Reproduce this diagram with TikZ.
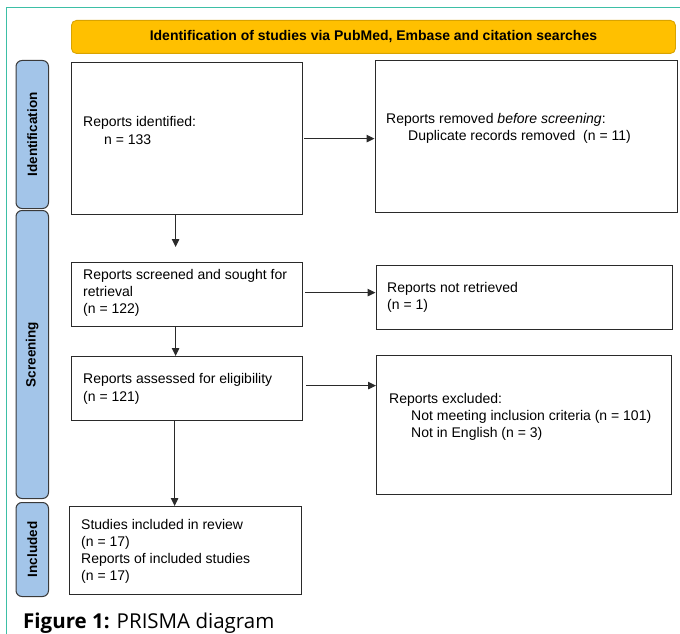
\documentclass[tikz,border=0pt]{standalone}
\usepackage{fontspec}
\setmainfont{Liberation Sans}
\newfontfamily\capfont{Open Sans}
\usetikzlibrary{arrows.meta}
\definecolor{framec}{HTML}{3DBFA6}
\definecolor{barfill}{HTML}{FFC000}
\definecolor{bardraw}{HTML}{D9A300}
\definecolor{tabfill}{HTML}{A3C5E9}
\definecolor{tabdraw}{HTML}{3A3A3A}
\definecolor{boxc}{HTML}{2A2A2A}
\tikzset{
  pbox/.style={draw=boxc, line width=1.2pt, anchor=north west, inner sep=0pt, fill=white},
  tab/.style={draw=tabdraw, fill=tabfill, line width=1pt, rounded corners=6pt, anchor=north west, inner sep=0pt, minimum width=32.5pt},
  tablabel/.style={rotate=90, font=\fontsize{13.5}{16}\selectfont\bfseries, inner sep=0pt},
  txt/.style={anchor=north west, inner sep=0pt, align=left, font=\fontsize{14}{17}\selectfont},
  arr/.style={draw=boxc, line width=1pt, -{Triangle[length=8pt,width=7.5pt]}}
}
\begin{document}
\begin{tikzpicture}[x=1pt,y=-1pt]
\useasboundingbox (0,0) rectangle (680,634);
% frame
\draw[framec, line width=1.3pt] (6.5,634) -- (6.5,7.5) -- (680,7.5);
% title bar
\node[draw=bardraw, fill=barfill, line width=0.9pt, rounded corners=5pt, anchor=north west, inner sep=0pt,
      minimum width=604pt, minimum height=33pt,
      font=\fontsize{14}{16}\selectfont\bfseries] (bar) at (71,20) {Identification of studies via PubMed, Embase and citation searches};
% side tabs
\node[tab, minimum height=148pt] (tid) at (15.5,60) {};
\node[tablabel] (lid) at (tid.center) {Identification};
\node[tab, minimum height=288pt] (tsc) at (15.5,210) {};
\node[tablabel] (lsc) at (tsc.center) {Screening};
\node[tab, minimum height=94pt] (tin) at (15.5,502) {};
\node[tablabel] (lin) at (tin.center) {Included};
% boxes
\node[pbox, minimum width=231pt, minimum height=152pt] (b1) at (71,62) {};
\node[pbox, minimum width=302pt, minimum height=152pt] (r1) at (374.5,60) {};
\node[pbox, minimum width=231pt, minimum height=64pt] (b2) at (71,262) {};
\node[pbox, minimum width=296.5pt, minimum height=64pt] (r2) at (375.5,264.5) {};
\node[pbox, minimum width=231pt, minimum height=64pt] (b3) at (71,356) {};
\node[pbox, minimum width=295pt, minimum height=139pt] (r3) at (376,355) {};
\node[pbox, minimum width=232pt, minimum height=88pt] (b4) at (68.5,506) {};
% texts
\node[txt] (t1) at (83,116.5) {Reports identified:\\[1pt]\hspace*{21pt}n = 133};
\node[txt] (tr1) at (386,113.5) {Reports removed \textit{before screening}:\\\hspace*{22pt}Duplicate records removed\ \ (n = 11)};
\node[txt] (t2) at (83,269.5) {Reports screened and sought for\\retrieval\\(n = 122)};
\node[txt] (tr2) at (387,282.5) {Reports not retrieved\\(n = 1)};
\node[txt] (t3) at (83,373.5) {Reports assessed for eligibility\\[1pt](n = 121)};
\node[txt] (tr3) at (389,393.5) {Reports excluded:\\\hspace*{22pt}Not meeting inclusion criteria (n = 101)\\\hspace*{22pt}Not in English (n = 3)};
\node[txt] (t4) at (81,519.5) {Studies included in review\\(n = 17)\\Reports of included studies\\(n = 17)};
% arrows
\draw[arr] ([xshift=1pt]b1.east) -- (b1.east -| r1.west);
\draw[arr] ([xshift=-11.5pt]b1.south) -- ([xshift=-11.5pt,yshift=15pt]b2.north);
\draw[arr] ([xshift=2pt,yshift=2pt]b2.east) -- ([yshift=2pt]b2.east -| r2.west);
\draw[arr] ([xshift=-11.5pt]b2.south) -- ([xshift=-11.5pt]b3.north);
\draw[arr] ([xshift=3pt,yshift=3pt]b3.east) -- ([yshift=3pt]b3.east -| r3.west);
\draw[arr] ([xshift=-12.5pt]b3.south) -- ([xshift=-12.5pt]b3.south |- b4.north);
% caption
\node[anchor=base west, inner sep=0pt, font=\capfont\fontsize{20.5}{24}\selectfont] (cap) at (23,628) {\textbf{Figure 1:} PRISMA diagram};
\end{tikzpicture}
\end{document}
